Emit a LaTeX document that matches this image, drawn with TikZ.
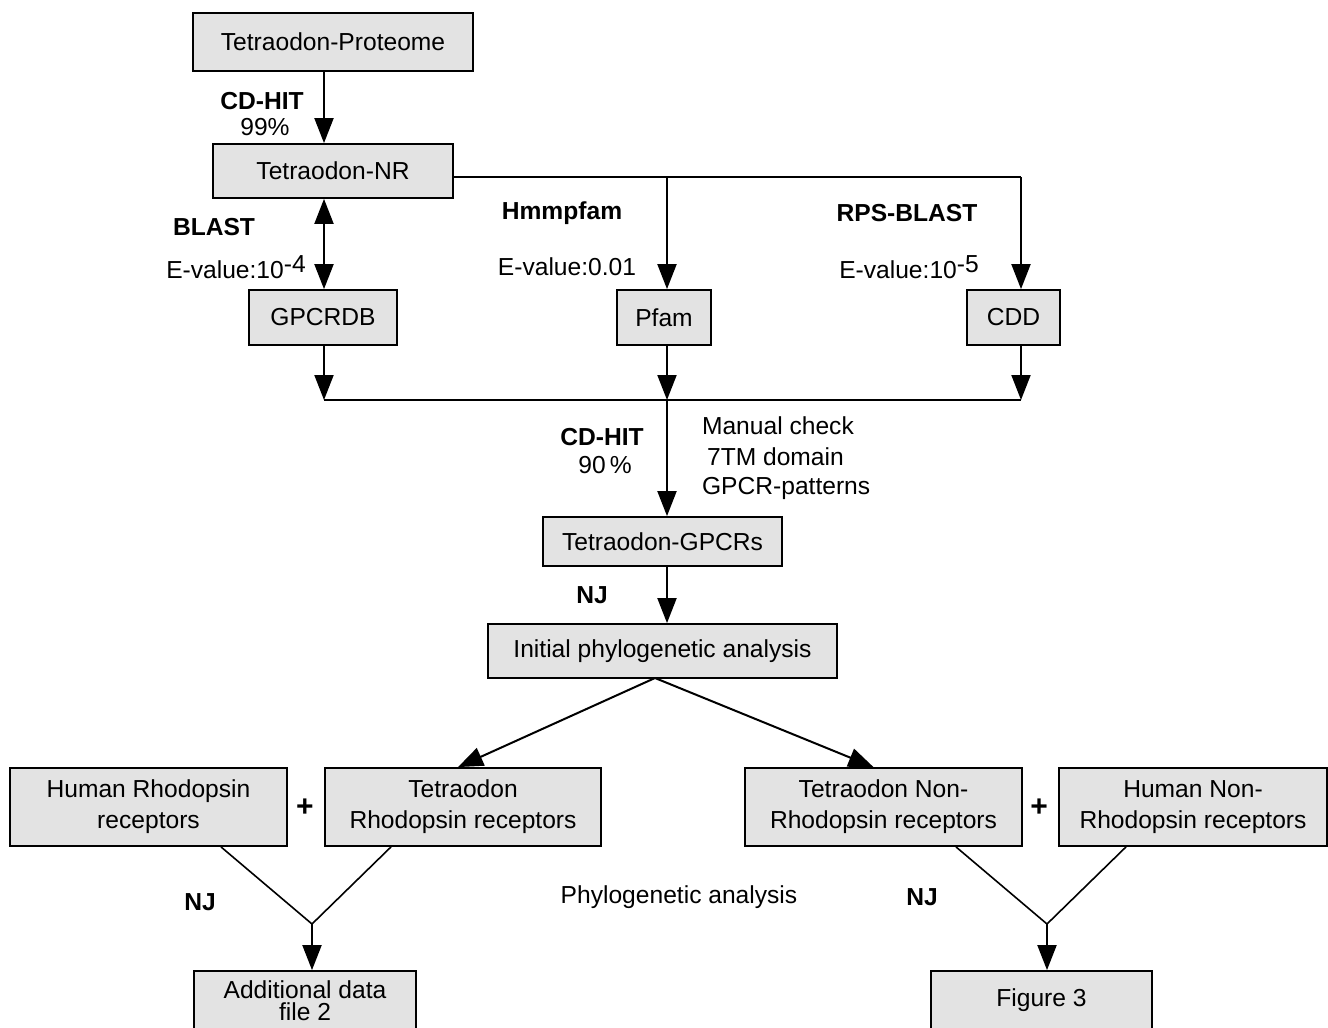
\documentclass[tikz,border=0pt]{standalone}
\usepackage{fontspec}
\setmainfont{Liberation Sans}
\usetikzlibrary{arrows.meta, calc}
\definecolor{boxgray}{RGB}{227,227,227}

\begin{document}
\begin{tikzpicture}[
		x=0.5pt, y=-0.5pt,
		font=\fontsize{12.3}{15.5}\selectfont,
		box/.style	={ draw=black, fill=boxgray, line width=0.9pt,
			inner sep=0pt, align=center,
		},
		flow/.style	={ line width=1pt,
			-{Triangle[length=12.5pt, width=9.5pt]},
		},
		twoway/.style	={ flow,
			{Triangle[length=12.5pt, width=9.5pt]}-{Triangle[length=12.5pt, width=9.5pt]},
		},
		yline/.style	={ line width=0.8pt, },
		tool/.style	={ font=\fontsize{12.3}{15.5}\selectfont\bfseries, },
		plus/.style	={ font=\fontsize{15}{15}\selectfont\bfseries, },
	]

	\useasboundingbox (0,0) rectangle (1328,1028);

	% draw main boxes
	\node [box, minimum width=140pt, minimum height=29pt] (proteome) at (333,42) {Tetraodon-Proteome};
	\node [box, minimum width=120pt, minimum height=27pt] (nr) at (333,171) {Tetraodon-NR};

	\def\dblist{ 323/74/GPCRDB/gpcrdb, 664/47/Pfam/pfam, 1013.5/46.5/CDD/cdd}
	\foreach \x/\w/\t/\n in \dblist
		\node [box, minimum width=\w pt, minimum height=27.5pt] (\n) at (\x,317.5) {\t};

	\node [box, minimum width=119.5pt, minimum height=24.5pt] (gpcrs) at (662.5,541.5) {Tetraodon-GPCRs};
	\node [box, minimum width=174.5pt, minimum height=27pt] (initial) at (662.5,651) {Initial phylogenetic analysis};

	% draw receptor boxes
	\node [box, minimum width=138.5pt, minimum height=39pt] (hrho) at (148.5,807) {Human Rhodopsin\\receptors};
	\node [box, minimum width=138pt, minimum height=39pt] (trho) at (463,807) {Tetraodon\\Rhodopsin receptors};
	\node [box, minimum width=138.5pt, minimum height=39pt] (tnon) at (883.5,807) {Tetraodon Non-\\Rhodopsin receptors};
	\node [box, minimum width=134pt, minimum height=39pt] (hnon) at (1193,807) {Human Non-\\Rhodopsin receptors};
	\node [plus] (plusL) at (305,808) {+};
	\node [plus] (plusR) at (1039,808) {+};

	% draw result boxes
	\node [box, minimum width=111pt, minimum height=29.5pt] (addl) at (305,1000.5) {Additional data\\[-4.5pt] file 2};
	\node [box, minimum width=110.5pt, minimum height=29.5pt] (fig3) at (1041.5,1000.5) {Figure 3};

	% labels
	\node [tool] (cdhitA) at (262,101) {CD-HIT};
	\node (pctA) at (265,127) {99\%};
	\node [tool] (blast) at (214,227) {BLAST};
	\node (evalA) at (236,267) {E-value:10\raisebox{0.5ex}{-4}};
	\node [tool] (hmm) at (562,213) {Hmmpfam};
	\node (evalB) at (567,267) {E-value:0.01};
	\node [tool] (rps) at (907,213) {RPS-BLAST};
	\node (evalC) at (909,267) {E-value:10\raisebox{0.5ex}{-5}};
	\node [tool] (cdhitB) at (602,437) {CD-HIT};
	\node (pctB) at (605,465) {90\,\%};
	\node [anchor=west] (manual) at (695,426) {Manual check};
	\node [anchor=west] (seventm) at (700,457) {7TM domain};
	\node [anchor=west] (pattern) at (695,488) {GPCR-patterns};
	\node [tool] (njA) at (592,595) {NJ};
	\node [tool] (njB) at (200,902) {NJ};
	\node [tool] (njC) at (922,897) {NJ};
	\node (phylo) at (679,897) {Phylogenetic analysis};

	% branch and merge points
	\coordinate (split) at (667,177);
	\coordinate (splitR) at (1021,177);
	\coordinate (mergeL) at (324,400);
	\coordinate (mergeM) at (667,400);
	\coordinate (mergeR) at (1021,400);
	\coordinate (fork) at (655,678);
	\coordinate (joinL) at (312,924);
	\coordinate (joinR) at (1047,924);

	% draw connectors
	\draw [flow] (proteome.south -| mergeL) -- (nr.north -| mergeL);
	\draw [twoway] (nr.south -| mergeL) -- (gpcrdb.north -| mergeL);
	\draw [line width=1pt] (nr.east |- split) -- (splitR);
	\draw [flow] (split) -- (pfam.north -| split);
	\draw [flow] (splitR) -- (cdd.north -| splitR);
	\draw [flow] (gpcrdb.south -| mergeL) -- (mergeL);
	\draw [flow] (pfam.south -| mergeM) -- (mergeM);
	\draw [flow] (cdd.south -| mergeR) -- (mergeR);
	\draw [line width=1pt] (mergeL) -- (mergeR);
	\draw [flow] (mergeM) -- (gpcrs.north -| mergeM);
	\draw [flow] (gpcrs.south -| mergeM) -- (initial.north -| mergeM);
	\draw [flow] (fork) -- ($(trho.north)+(-5,0)$);
	\draw [flow] (fork) -- ($(tnon.north)+(-10,0)$);

	% draw joins
	\draw [yline] ($(hrho.south)+(72.5,0)$) -- (joinL) -- ($(trho.south)+(-72,0)$);
	\draw [flow] (joinL) -- (addl.north -| joinL);
	\draw [yline] ($(tnon.south)+(72.5,0)$) -- (joinR) -- ($(hnon.south)+(-67,0)$);
	\draw [flow] (joinR) -- (fig3.north -| joinR);

\end{tikzpicture}
\end{document}
